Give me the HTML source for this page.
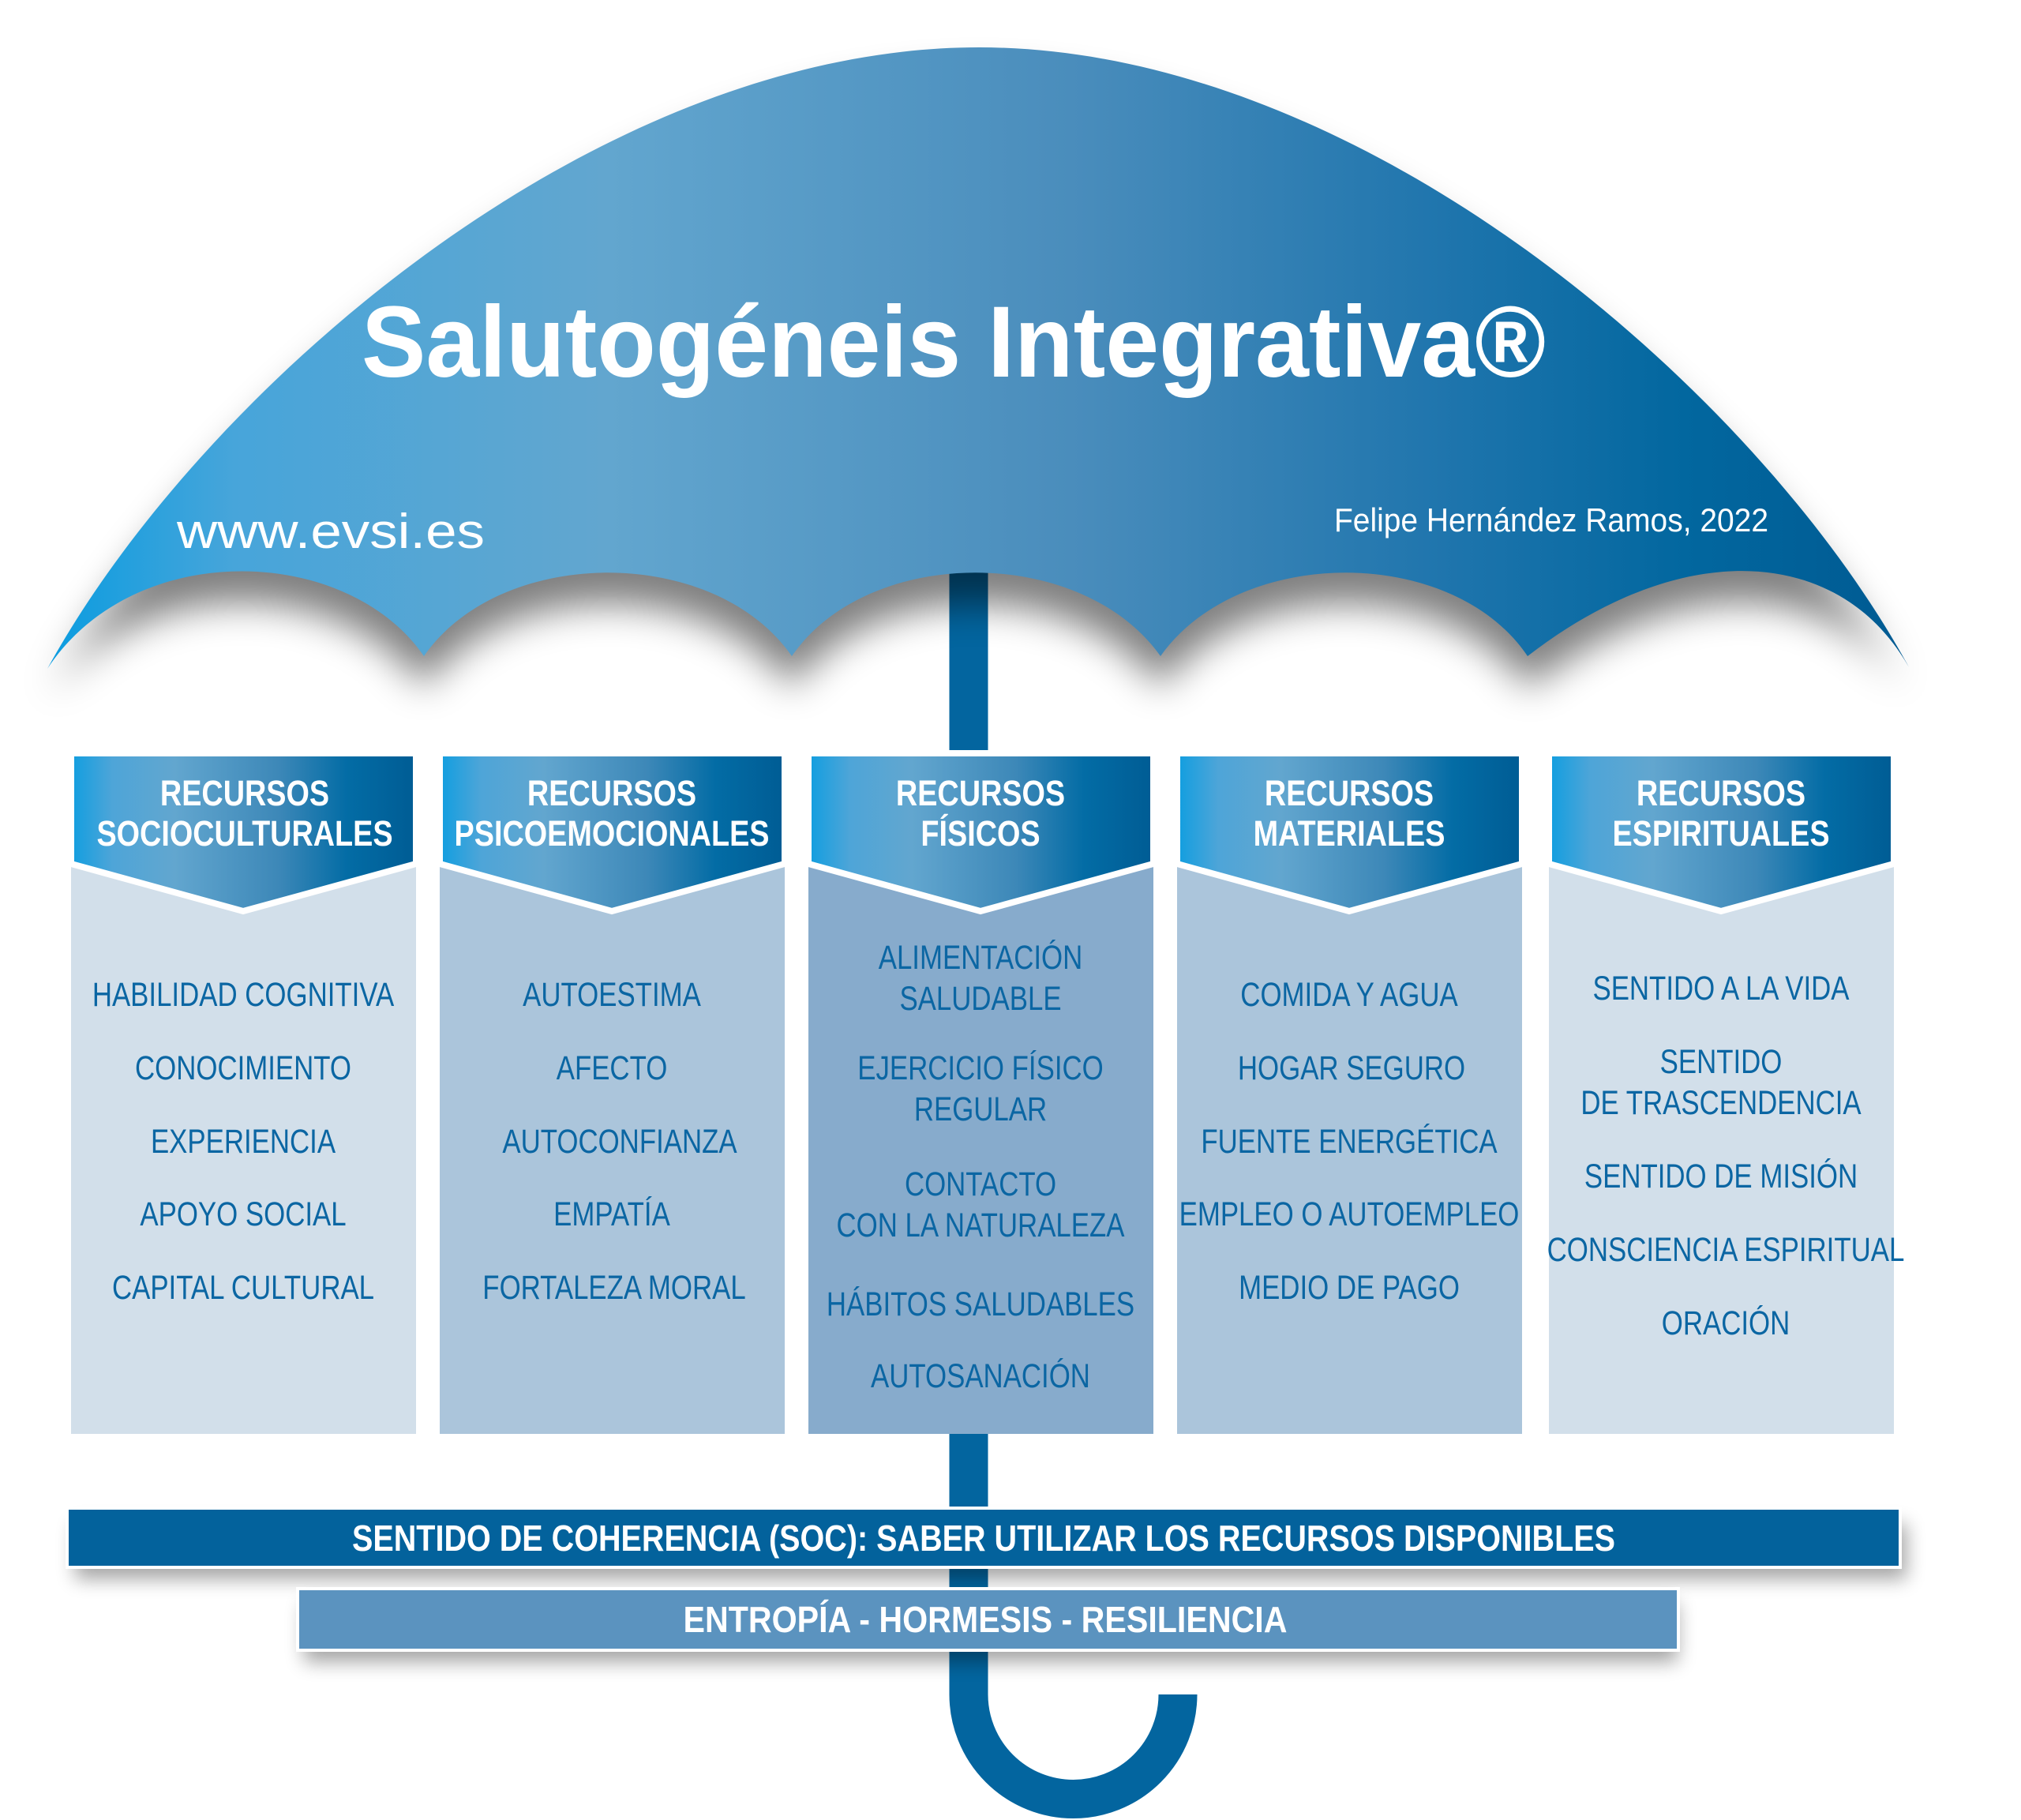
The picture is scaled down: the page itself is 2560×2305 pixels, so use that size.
<!DOCTYPE html>
<html><head><meta charset="utf-8"><style>
html,body{margin:0;padding:0;background:#fff}
svg{display:block}
.it{font-family:"Liberation Sans Narrow","Liberation Sans",sans-serif;font-size:43px;fill:#0b66a3;text-anchor:middle}
.hd{font-family:"Liberation Sans Narrow","Liberation Sans",sans-serif;font-size:45px;font-weight:bold;fill:#fff;text-anchor:middle}
.bar{font-family:"Liberation Sans Narrow","Liberation Sans",sans-serif;font-size:46px;font-weight:bold;fill:#fff;text-anchor:middle}
</style></head><body>
<svg width="2560" height="2305" viewBox="0 0 2560 2305" xmlns="http://www.w3.org/2000/svg">
<defs>
<linearGradient id="cg" x1="0" y1="0" x2="1" y2="0">
<stop offset="0" stop-color="#0a9ce0"/><stop offset="0.1" stop-color="#47a5da"/><stop offset="0.3" stop-color="#62a6cf"/><stop offset="0.55" stop-color="#4a8dbc"/><stop offset="0.75" stop-color="#1f75ad"/><stop offset="0.88" stop-color="#02679f"/><stop offset="1" stop-color="#005a92"/>
</linearGradient>
<linearGradient id="hg" x1="0" y1="0" x2="1" y2="0">
<stop offset="0" stop-color="#109ee0"/><stop offset="0.12" stop-color="#4ea5d8"/><stop offset="0.3" stop-color="#62a6cf"/><stop offset="0.6" stop-color="#3d88b8"/><stop offset="0.8" stop-color="#036ca5"/><stop offset="1" stop-color="#005c94"/>
</linearGradient>
<filter id="bl" x="-10%" y="-10%" width="120%" height="140%"><feGaussianBlur stdDeviation="24"/></filter>
<filter id="bs" x="-5%" y="-50%" width="110%" height="250%"><feGaussianBlur stdDeviation="12"/></filter>
<path id="can" d="M60,847 C250,500 750,60 1240,60 C1730,60 2230,500 2418,845 C2330,690 2130,680 1935,831 C1840,690 1570,690 1470,831 C1370,690 1100,690 1003,831 C905,690 635,690 537,831 C440,690 170,680 60,847 Z"/>
</defs>

<path d="M1227,720 V2146 A132.5,132.5 0 0 0 1492,2146 V2148" fill="none" stroke="#03659f" stroke-width="49"/>

<use href="#can" fill="#000" opacity="0.5" transform="translate(0,40)" filter="url(#bl)"/>
<use href="#can" fill="url(#cg)"/>

<text x="1208" y="477" font-family="Liberation Sans Narrow, Liberation Sans, sans-serif" font-size="128" font-weight="bold" fill="#fff" text-anchor="middle" textLength="1500" lengthAdjust="spacingAndGlyphs">Salutogéneis Integrativa®</text>
<text x="224" y="694" font-family="Liberation Sans, sans-serif" font-size="62" fill="#fff" textLength="390" lengthAdjust="spacingAndGlyphs">www.evsi.es</text>
<text x="1690" y="673" font-family="Liberation Sans Narrow, Liberation Sans, sans-serif" font-size="42" fill="#fff" textLength="550" lengthAdjust="spacingAndGlyphs">Felipe Hernández Ramos, 2022</text>

<g>
<rect x="90" y="954" width="437" height="862" fill="#d2dfea"/>
<rect x="557" y="954" width="437" height="862" fill="#abc5db"/>
<rect x="1024" y="954" width="437" height="862" fill="#87abcc"/>
<rect x="1491" y="954" width="437" height="862" fill="#abc5db"/>
<rect x="1962" y="954" width="437" height="862" fill="#d2dfea"/>
</g>
<g stroke="#fff" stroke-width="8" stroke-linejoin="miter">
<path d="M90,954 H527 V1094 L308,1154 L90,1094 Z" fill="url(#hg)"/>
<path d="M557,954 H994 V1094 L775,1154 L557,1094 Z" fill="url(#hg)"/>
<path d="M1024,954 H1461 V1094 L1242,1154 L1024,1094 Z" fill="url(#hg)"/>
<path d="M1491,954 H1928 V1094 L1709,1154 L1491,1094 Z" fill="url(#hg)"/>
<path d="M1962,954 H2399 V1094 L2180,1154 L1962,1094 Z" fill="url(#hg)"/>
</g>
<rect x="86" y="950" width="2320" height="5" fill="#fff"/>

<g>
<text class="hd" transform="translate(310,1020) scale(0.84,1)">RECURSOS</text><text class="hd" transform="translate(310,1071) scale(0.84,1)">SOCIOCULTURALES</text>
<text class="hd" transform="translate(775,1020) scale(0.84,1)">RECURSOS</text><text class="hd" transform="translate(775,1071) scale(0.84,1)">PSICOEMOCIONALES</text>
<text class="hd" transform="translate(1242,1020) scale(0.84,1)">RECURSOS</text><text class="hd" transform="translate(1242,1071) scale(0.84,1)">FÍSICOS</text>
<text class="hd" transform="translate(1709,1020) scale(0.84,1)">RECURSOS</text><text class="hd" transform="translate(1709,1071) scale(0.84,1)">MATERIALES</text>
<text class="hd" transform="translate(2180,1020) scale(0.84,1)">RECURSOS</text><text class="hd" transform="translate(2180,1071) scale(0.84,1)">ESPIRITUALES</text>
</g>

<g>
<text class="it" transform="translate(308,1274) scale(0.81,1)">HABILIDAD COGNITIVA</text>
<text class="it" transform="translate(308,1367) scale(0.81,1)">CONOCIMIENTO</text>
<text class="it" transform="translate(308,1460) scale(0.81,1)">EXPERIENCIA</text>
<text class="it" transform="translate(308,1552) scale(0.81,1)">APOYO SOCIAL</text>
<text class="it" transform="translate(308,1645) scale(0.81,1)">CAPITAL CULTURAL</text>

<text class="it" transform="translate(775,1274) scale(0.81,1)">AUTOESTIMA</text>
<text class="it" transform="translate(775,1367) scale(0.81,1)">AFECTO</text>
<text class="it" transform="translate(785,1460) scale(0.81,1)">AUTOCONFIANZA</text>
<text class="it" transform="translate(775,1552) scale(0.81,1)">EMPATÍA</text>
<text class="it" transform="translate(778,1645) scale(0.81,1)">FORTALEZA MORAL</text>

<text class="it" transform="translate(1242,1227) scale(0.81,1)">ALIMENTACIÓN</text>
<text class="it" transform="translate(1242,1279) scale(0.81,1)">SALUDABLE</text>
<text class="it" transform="translate(1242,1367) scale(0.81,1)">EJERCICIO FÍSICO</text>
<text class="it" transform="translate(1242,1419) scale(0.81,1)">REGULAR</text>
<text class="it" transform="translate(1242,1514) scale(0.81,1)">CONTACTO</text>
<text class="it" transform="translate(1242,1566) scale(0.81,1)">CON LA NATURALEZA</text>
<text class="it" transform="translate(1242,1666) scale(0.81,1)">HÁBITOS SALUDABLES</text>
<text class="it" transform="translate(1242,1757) scale(0.81,1)">AUTOSANACIÓN</text>

<text class="it" transform="translate(1709,1274) scale(0.81,1)">COMIDA Y AGUA</text>
<text class="it" transform="translate(1712,1367) scale(0.81,1)">HOGAR SEGURO</text>
<text class="it" transform="translate(1709,1460) scale(0.81,1)">FUENTE ENERGÉTICA</text>
<text class="it" transform="translate(1709,1552) scale(0.81,1)">EMPLEO O AUTOEMPLEO</text>
<text class="it" transform="translate(1709,1645) scale(0.81,1)">MEDIO DE PAGO</text>

<text class="it" transform="translate(2180,1266) scale(0.81,1)">SENTIDO A LA VIDA</text>
<text class="it" transform="translate(2180,1359) scale(0.81,1)">SENTIDO</text>
<text class="it" transform="translate(2180,1411) scale(0.81,1)">DE TRASCENDENCIA</text>
<text class="it" transform="translate(2180,1504) scale(0.81,1)">SENTIDO DE MISIÓN</text>
<text class="it" transform="translate(2186,1597) scale(0.81,1)">CONSCIENCIA ESPIRITUAL</text>
<text class="it" transform="translate(2186,1690) scale(0.81,1)">ORACIÓN</text>
</g>

<rect x="95" y="1930" width="2320" height="70" fill="#000" opacity="0.35" filter="url(#bs)"/>
<rect x="85" y="1910" width="2322" height="75" fill="#03629c" stroke="#fff" stroke-width="4"/>
<text class="bar" x="1246" y="1964" textLength="1600" lengthAdjust="spacingAndGlyphs">SENTIDO DE COHERENCIA (SOC): SABER UTILIZAR LOS RECURSOS DISPONIBLES</text>
<rect x="385" y="2030" width="1740" height="75" fill="#000" opacity="0.35" filter="url(#bs)"/>
<rect x="377" y="2012" width="1749" height="78" fill="#5b93bf" stroke="#fff" stroke-width="4"/>
<text class="bar" x="1248" y="2067" textLength="765" lengthAdjust="spacingAndGlyphs">ENTROPÍA - HORMESIS - RESILIENCIA</text>
</svg>
</body></html>
